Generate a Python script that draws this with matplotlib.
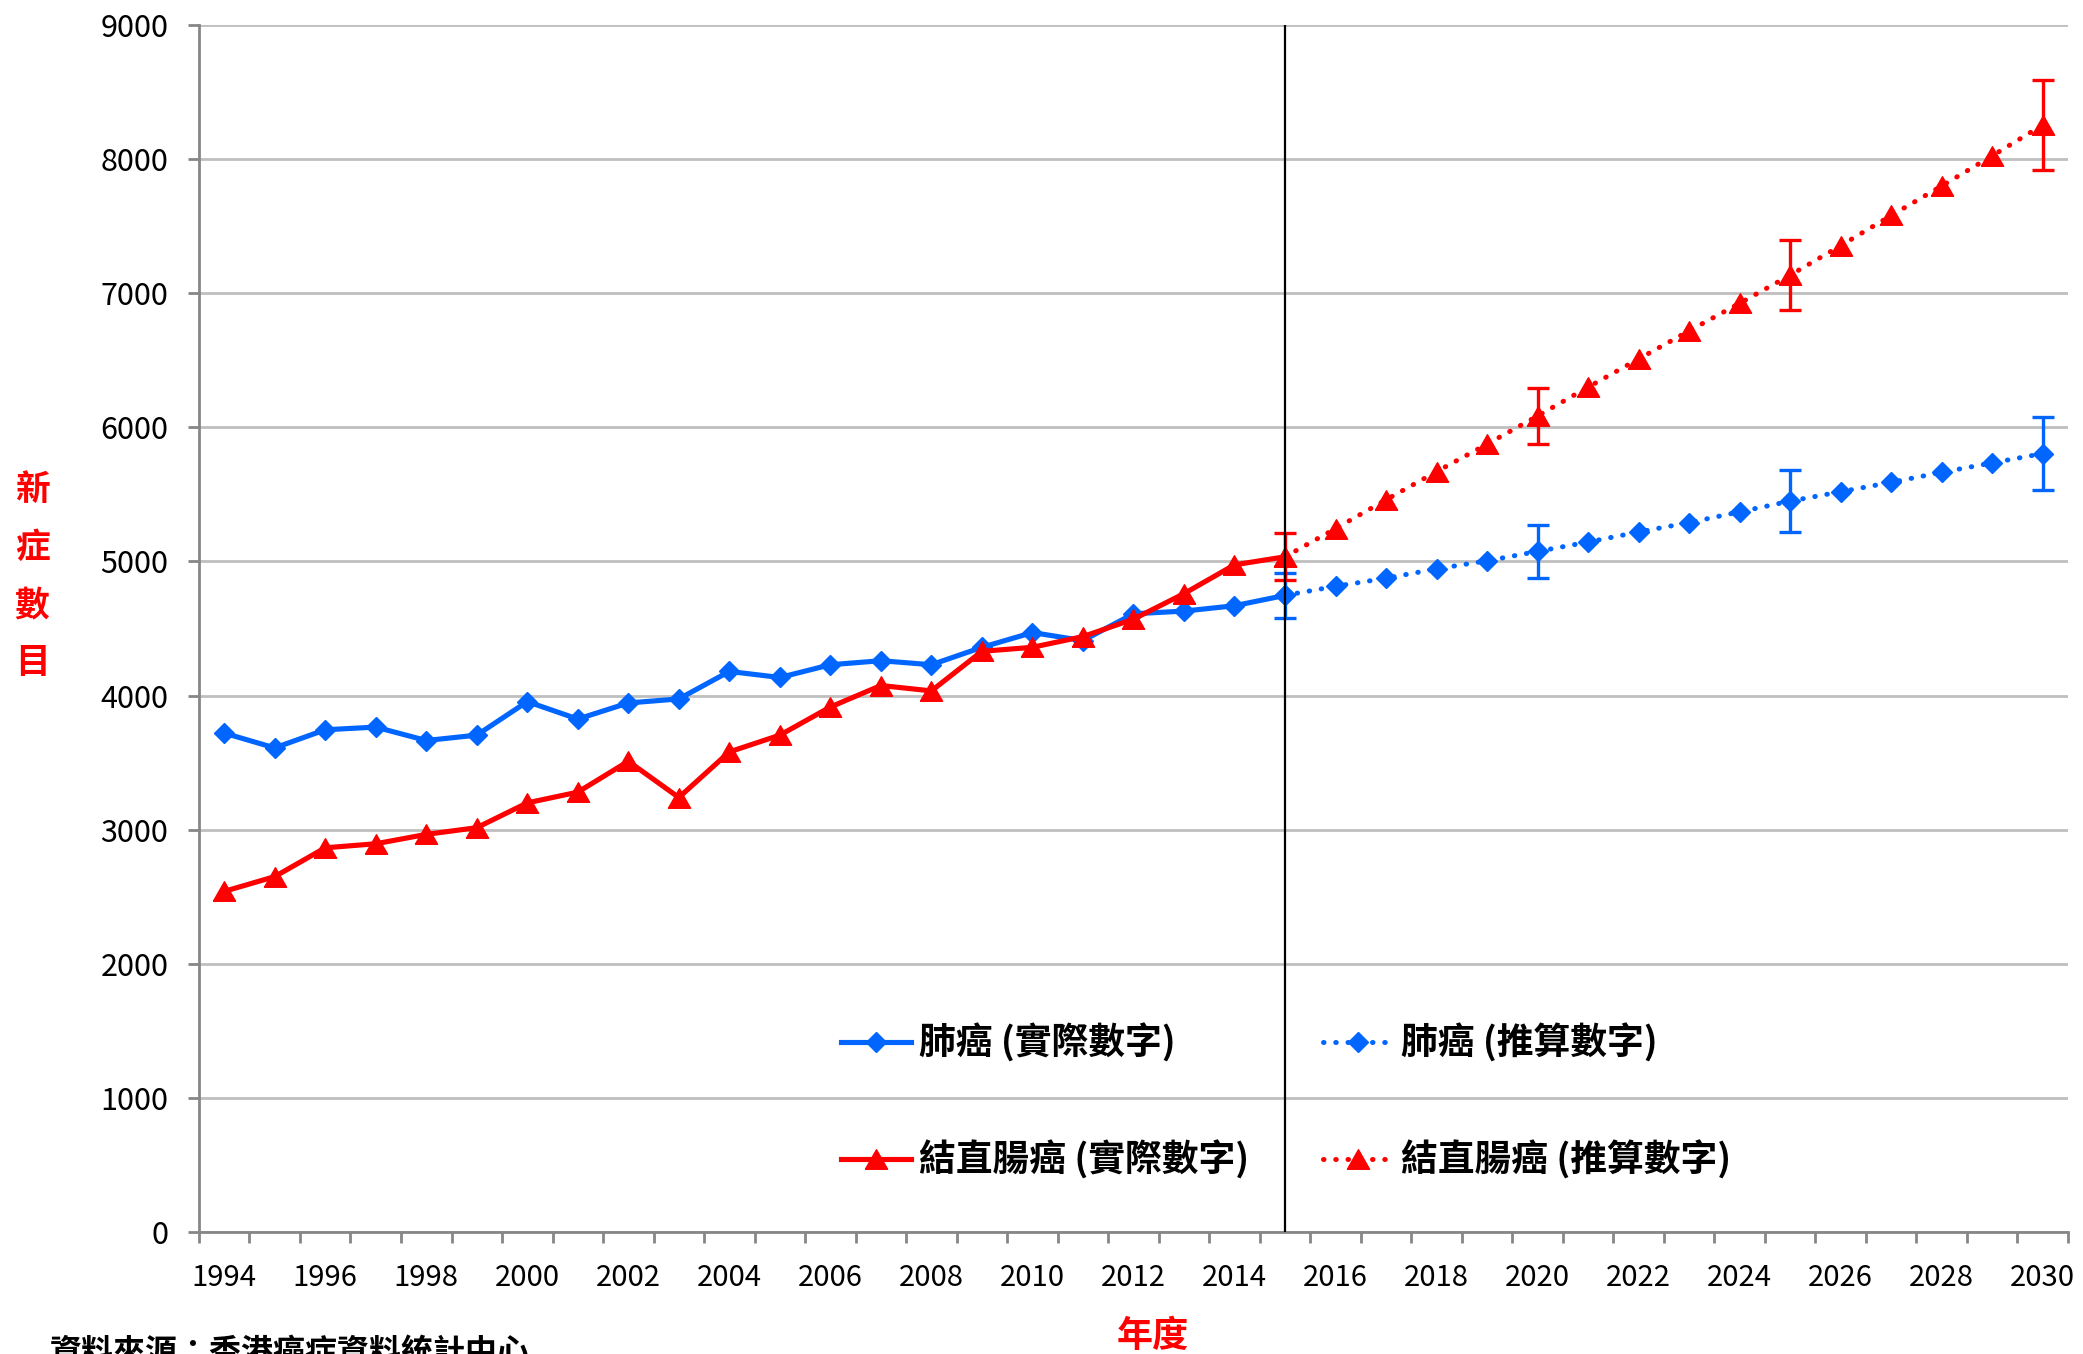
import numpy as np
import matplotlib
matplotlib.use("Agg")
from matplotlib import pyplot as plt

plt.rcParams["font.family"] = ["Noto Sans CJK TC", "DejaVu Sans"]

# ---------------------------------------
# Data
# ---------------------------------------

years_actual = list(range(1994, 2016))
lung_actual = [3720, 3610, 3745, 3765, 3665, 3705, 3955, 3825, 3945, 3975, 4180,
               4135, 4230, 4260, 4230, 4360, 4470, 4410, 4610, 4630, 4670, 4747]
crc_actual = [2540, 2650, 2865, 2895, 2965, 3015, 3200, 3280, 3510, 3240, 3580,
              3705, 3915, 4075, 4035, 4330, 4360, 4440, 4570, 4760, 4975, 5035]

years_proj = list(range(2015, 2031))
lung_proj = [4747, 4815, 4875, 4945, 5005, 5075, 5145, 5220, 5290, 5370, 5450,
             5520, 5590, 5665, 5735, 5805]
crc_proj = [5035, 5245, 5460, 5670, 5875, 6085, 6300, 6510, 6720, 6925, 7135,
            7355, 7580, 7800, 8025, 8255]

err_years = [2015, 2020, 2025, 2030]
lung_err = [165, 195, 230, 272]
crc_err = [175, 208, 260, 336]

blue = "#0066FF"
red = "#FF0000"

# ---------------------------------------
# Figure
# ---------------------------------------

fig = plt.figure(figsize=(20.83, 13.54), dpi=100)
ax = fig.add_axes([0.0955, 0.0901, 0.8973, 0.8914])

dotted = (0, (0.1, 2.35))
# a slightly flattened triangle, like the Excel marker
tri = [(-1, -0.88), (1, -0.88), (0, 0.88), (-1, -0.88)]

h_lung_a, = ax.plot(years_actual, lung_actual, color=blue, lw=3.7, marker="D", ms=10,
                    label="肺癌 (實際數字)", zorder=3)
h_lung_p, = ax.plot(years_proj, lung_proj, color=blue, lw=3.6, ls=dotted,
                    dash_capstyle="round", marker="D", ms=10, label="肺癌 (推算數字)", zorder=3)
h_crc_a, = ax.plot(years_actual, crc_actual, color=red, lw=3.7, marker=tri, ms=16,
                   label="結直腸癌 (實際數字)", zorder=4)
h_crc_p, = ax.plot(years_proj, crc_proj, color=red, lw=3.6, ls=dotted,
                   dash_capstyle="round", marker=tri, ms=16, label="結直腸癌 (推算數字)", zorder=4)

lung_at = [lung_proj[years_proj.index(y)] for y in err_years]
crc_at = [crc_proj[years_proj.index(y)] for y in err_years]
ax.errorbar(err_years, lung_at, yerr=lung_err, fmt="none", ecolor=blue,
            elinewidth=2.4, capsize=8, capthick=2.4, zorder=3)
ax.errorbar(err_years, crc_at, yerr=crc_err, fmt="none", ecolor=red,
            elinewidth=2.4, capsize=8, capthick=2.4, zorder=4)

ax.axvline(2015, color="black", lw=1.6, zorder=5)

# axes styling
ax.set_xlim(1993.5, 2030.5)
ax.set_ylim(0, 9000)
ax.set_yticks(range(0, 9001, 1000))
ax.grid(axis="y", color="#BFBFBF", lw=2, zorder=0)
ax.set_axisbelow(True)
for side in ["top", "right"]:
    ax.spines[side].set_visible(False)
for side in ["left", "bottom"]:
    ax.spines[side].set_color("#868686")
    ax.spines[side].set_linewidth(2)

ax.set_xticks(np.arange(1993.5, 2031, 1))
ax.set_xticklabels([])
ax.set_xticks(range(1994, 2031, 2), minor=True)
ax.set_xticklabels([str(y) for y in range(1994, 2031, 2)], minor=True)
ax.tick_params(axis="x", which="major", length=8, width=2, color="#868686")
ax.tick_params(axis="x", which="minor", length=0, pad=22, labelsize=21)
ax.tick_params(axis="y", length=8, width=2, color="#868686", pad=14, labelsize=22)

handles = [h_lung_a, h_crc_a, h_lung_p, h_crc_p]
leg = ax.legend(handles=handles, labels=[h.get_label() for h in handles],
                ncol=2, loc="center left", bbox_to_anchor=(0.326, 0.108),
                frameon=False, prop={"size": 26.5, "weight": "bold"},
                handlelength=1.9, handletextpad=0.22, columnspacing=2.0,
                labelspacing=2.12)

# axis titles
fig.text(32 / 2083, 1 - 576 / 1354, "新\n症\n數\n目", color=red, fontsize=25,
         fontweight="bold", ha="center", va="center", linespacing=1.8)
fig.text(1153 / 2083, 1 - 1318 / 1354, "年度", color=red, fontsize=26,
         fontweight="bold", ha="center", va="top")
fig.text(50 / 2083, 1 - 1337 / 1354, "資料來源：香港癌症資料統計中心", color="black",
         fontsize=23, fontweight="bold", ha="left", va="top")

fig.savefig("out.png", dpi=100)
